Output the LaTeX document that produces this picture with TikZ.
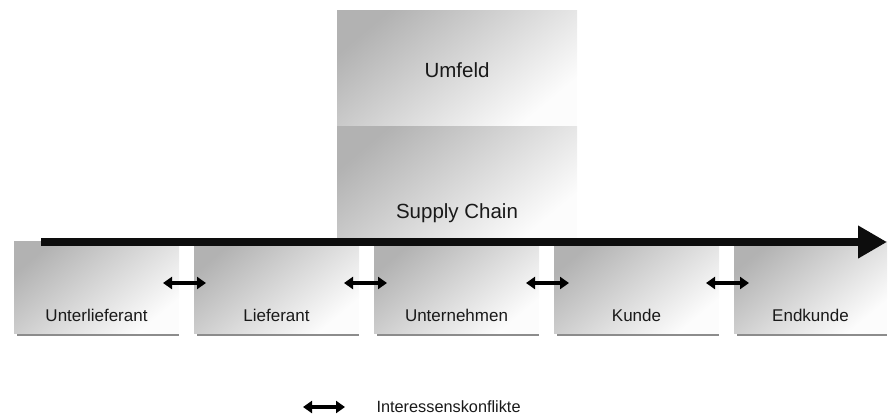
\documentclass[tikz,border=0pt]{standalone}
\usepackage{fontspec}
\setmainfont{Liberation Sans}
\usetikzlibrary{arrows.meta}
\tikzset{
  box/.style={shade, top color=black!30, bottom color=black!1, shading angle=40,
    inner sep=0pt, outer sep=0pt},
  shadowline/.style={draw=black!45, line width=1.5pt},
  toplbl/.style={font=\fontsize{20.5}{24}\selectfont, text=black!90},
  botlbl/.style={font=\fontsize{17}{20}\selectfont, text=black!90},
  leglbl/.style={font=\fontsize{16.3}{19}\selectfont, text=black!90},
  mainarrow/.style={draw=black!95, line width=8pt, -{Triangle[length=29pt,width=31pt]}},
  dblarrow/.style={draw=black, line width=4pt, {Triangle[length=9pt,width=12pt]}-{Triangle[length=9pt,width=12pt]}},
}
\begin{document}
\begin{tikzpicture}[x=1pt,y=-1pt]
\useasboundingbox (0,0) rectangle (888,416);
% top boxes
\node[box, minimum width=240pt, minimum height=115pt] (umfeld) at (457,67.5) {};
\node[box, minimum width=240pt, minimum height=114pt] (sc) at (457,183) {};
\node[toplbl] (umfeldt) at ([yshift=-3pt]umfeld.center) {Umfeld};
\node[toplbl] (sct) at ([yshift=-30pt]sc.center) {Supply Chain};
% bottom boxes
\foreach \n/\x/\w/\t in {u1/96.5/165/Unterlieferant, u2/276.5/165/Lieferant, u3/456.5/165/Unternehmen, u4/636.5/165/Kunde, u5/810.5/153/Endkunde}{
  \node[box, minimum width=\w pt, minimum height=92pt] (\n) at (\x,287) {};
  \draw[shadowline] ([xshift=3pt,yshift=-2pt]\n.south west) -- ([yshift=-2pt]\n.south east);
  \node[botlbl] (\n t) at ([yshift=-28pt]\n.center) {\t};
}
% main arrow
\coordinate (as) at (41,242);
\coordinate (ae) at (887,242);
\draw[mainarrow] (as) -- (ae);
% conflict arrows
\draw[dblarrow] ([xshift=-16pt,yshift=4pt]u1.east) -- ([xshift=12pt,yshift=4pt]u2.west);
\draw[dblarrow] ([xshift=-15pt,yshift=4pt]u2.east) -- ([xshift=13pt,yshift=4pt]u3.west);
\draw[dblarrow] ([xshift=-13pt,yshift=4pt]u3.east) -- ([xshift=15pt,yshift=4pt]u4.west);
\draw[dblarrow] ([xshift=-13pt,yshift=4pt]u4.east) -- ([xshift=15pt,yshift=4pt]u5.west);
% legend
\coordinate (la) at (303,407);
\coordinate (lb) at (345,407);
\draw[dblarrow] (la) -- (lb);
\node[leglbl, anchor=west] (legt) at (373,407) {Interessenskonflikte};
\end{tikzpicture}
\end{document}
